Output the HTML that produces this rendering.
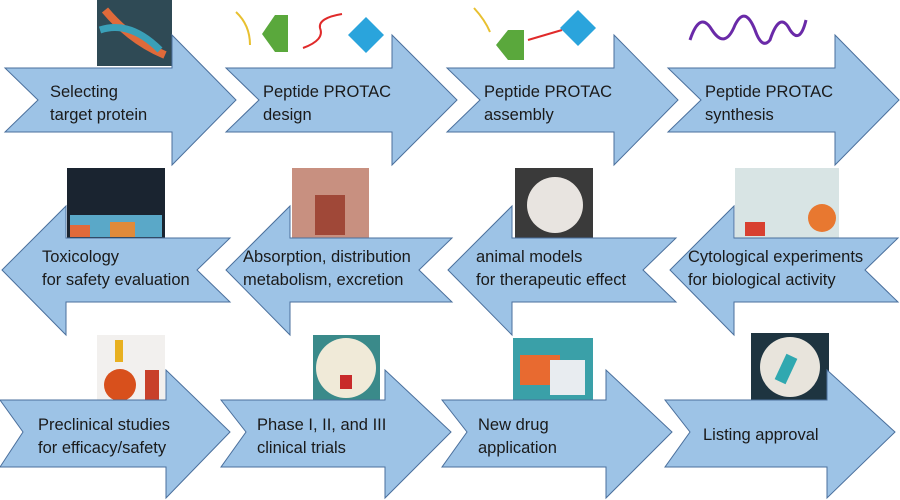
<!DOCTYPE html>
<html><head><meta charset="utf-8"><style>
body{margin:0;background:#fff}
svg{display:block}
text{font-family:"Liberation Sans",sans-serif;font-size:16.5px;fill:#1a1a1a}
.a{fill:#9dc3e6;stroke:#4a6f9c;stroke-width:1}
</style></head><body>
<svg width="900" height="500" viewBox="0 0 900 500" xmlns="http://www.w3.org/2000/svg">
<!-- Row 1 -->
<g>
<rect x="97" y="0" width="75" height="66" fill="#2f4a55"/>
<path d="M105 10 Q130 40 165 55" stroke="#e06a3a" stroke-width="8" fill="none"/>
<path d="M100 30 Q130 20 160 50" stroke="#3aa0b8" stroke-width="7" fill="none"/>
<polygon class="a" points="5,68 172,68 172,35 236,100 172,165 172,132 5,132 38,100"/>
<text x="50" y="97">Selecting</text><text x="50" y="120">target protein</text>

<path d="M236 12 Q250 25 250 45" stroke="#e8c030" stroke-width="2" fill="none"/>
<polygon points="275,15 288,15 288,52 275,52 262,34" fill="#5aa83c"/>
<path d="M303 48 Q325 40 320 28 Q318 18 342 14" stroke="#e02a2a" stroke-width="2" fill="none"/>
<polygon points="366,17 384,35 366,53 348,35" fill="#2aa4dc"/>
<polygon class="a" points="226,68 392,68 392,35 457,100 392,165 392,132 226,132 259,100"/>
<text x="263" y="97">Peptide PROTAC</text><text x="263" y="120">design</text>

<path d="M474 8 Q485 20 490 32" stroke="#e8c030" stroke-width="2" fill="none"/>
<polygon points="508,30 524,30 524,60 508,60 496,45" fill="#5aa83c"/>
<path d="M528 40 L562 30" stroke="#e02a2a" stroke-width="2"/>
<polygon points="578,10 596,28 578,46 560,28" fill="#2aa4dc"/>
<polygon class="a" points="447,68 614,68 614,35 678,100 614,165 614,132 447,132 480,100"/>
<text x="484" y="97">Peptide PROTAC</text><text x="484" y="120">assembly</text>

<path d="M690 40 Q700 10 712 30 Q725 50 735 25 Q745 5 755 30 Q762 50 770 40 Q780 10 790 30 Q800 45 806 20" stroke="#6a2aa8" stroke-width="3" fill="none"/>
<polygon class="a" points="668,68 835,68 835,35 899,100 835,165 835,132 668,132 701,100"/>
<text x="705" y="97">Peptide PROTAC</text><text x="705" y="120">synthesis</text>
</g>
<!-- Row 2 -->
<g>
<rect x="67" y="168" width="98" height="70" fill="#1a2430"/>
<rect x="70" y="215" width="92" height="22" fill="#5aa8c8"/>
<rect x="70" y="225" width="20" height="12" fill="#e06a3a"/>
<rect x="110" y="222" width="25" height="15" fill="#e08a3a"/>
<polygon class="a" points="2,270 66,206 66,238 230,238 197,270 230,302 66,302 66,335"/>
<text x="42" y="262">Toxicology</text><text x="42" y="285">for safety evaluation</text>

<rect x="292" y="168" width="77" height="70" fill="#c89080"/>
<rect x="315" y="195" width="30" height="40" fill="#a04838"/>
<polygon class="a" points="226,270 290,206 290,238 452,238 419,270 452,302 290,302 290,335"/>
<text x="243" y="262">Absorption, distribution</text><text x="243" y="285">metabolism, excretion</text>

<rect x="515" y="168" width="78" height="70" fill="#3a3a3a"/>
<ellipse cx="555" cy="205" rx="28" ry="28" fill="#e8e4e0"/>
<polygon class="a" points="448,270 512,206 512,238 676,238 643,270 676,302 512,302 512,335"/>
<text x="476" y="262">animal models</text><text x="476" y="285">for therapeutic effect</text>

<rect x="735" y="168" width="104" height="70" fill="#d8e4e4"/>
<circle cx="822" cy="218" r="14" fill="#e87830"/>
<rect x="745" y="222" width="20" height="14" fill="#d84030"/>
<polygon class="a" points="670,270 734,206 734,238 898,238 865,270 898,302 734,302 734,335"/>
<text x="688" y="262">Cytological experiments</text><text x="688" y="285">for biological activity</text>
</g>
<!-- Row 3 -->
<g>
<rect x="97" y="335" width="68" height="66" fill="#f2f0ee"/>
<circle cx="120" cy="385" r="16" fill="#d8501c"/>
<rect x="115" y="340" width="8" height="22" fill="#e8b020"/>
<rect x="145" y="370" width="14" height="30" fill="#c8402a"/>
<polygon class="a" points="0,400 166,400 166,370 230,432 166,498 166,467 0,467 23,432"/>
<text x="38" y="430">Preclinical studies</text><text x="38" y="453">for efficacy/safety</text>

<rect x="313" y="335" width="67" height="66" fill="#3a8a8a"/>
<circle cx="346" cy="368" r="30" fill="#f0ead8"/>
<rect x="340" y="375" width="12" height="14" fill="#c82a2a"/>
<polygon class="a" points="221,400 385,400 385,370 451,432 385,498 385,467 221,467 246,432"/>
<text x="257" y="430">Phase I, II, and III</text><text x="257" y="453">clinical trials</text>

<rect x="513" y="338" width="80" height="63" fill="#3aa0a8"/>
<rect x="520" y="355" width="40" height="30" fill="#e86a30"/>
<rect x="550" y="360" width="35" height="35" fill="#e8ecf0"/>
<polygon class="a" points="442,400 606,400 606,370 672,432 606,498 606,467 442,467 467,432"/>
<text x="478" y="430">New drug</text><text x="478" y="453">application</text>

<rect x="751" y="333" width="78" height="68" fill="#1e3440"/>
<circle cx="790" cy="367" r="30" fill="#e8e4dc"/>
<rect x="780" y="355" width="12" height="28" fill="#30a8b0" transform="rotate(25 786 369)"/>
<polygon class="a" points="665,400 827,400 827,370 895,432 827,498 827,467 665,467 690,432"/>
<text x="703" y="440">Listing approval</text>
</g>
</svg>
</body></html>
